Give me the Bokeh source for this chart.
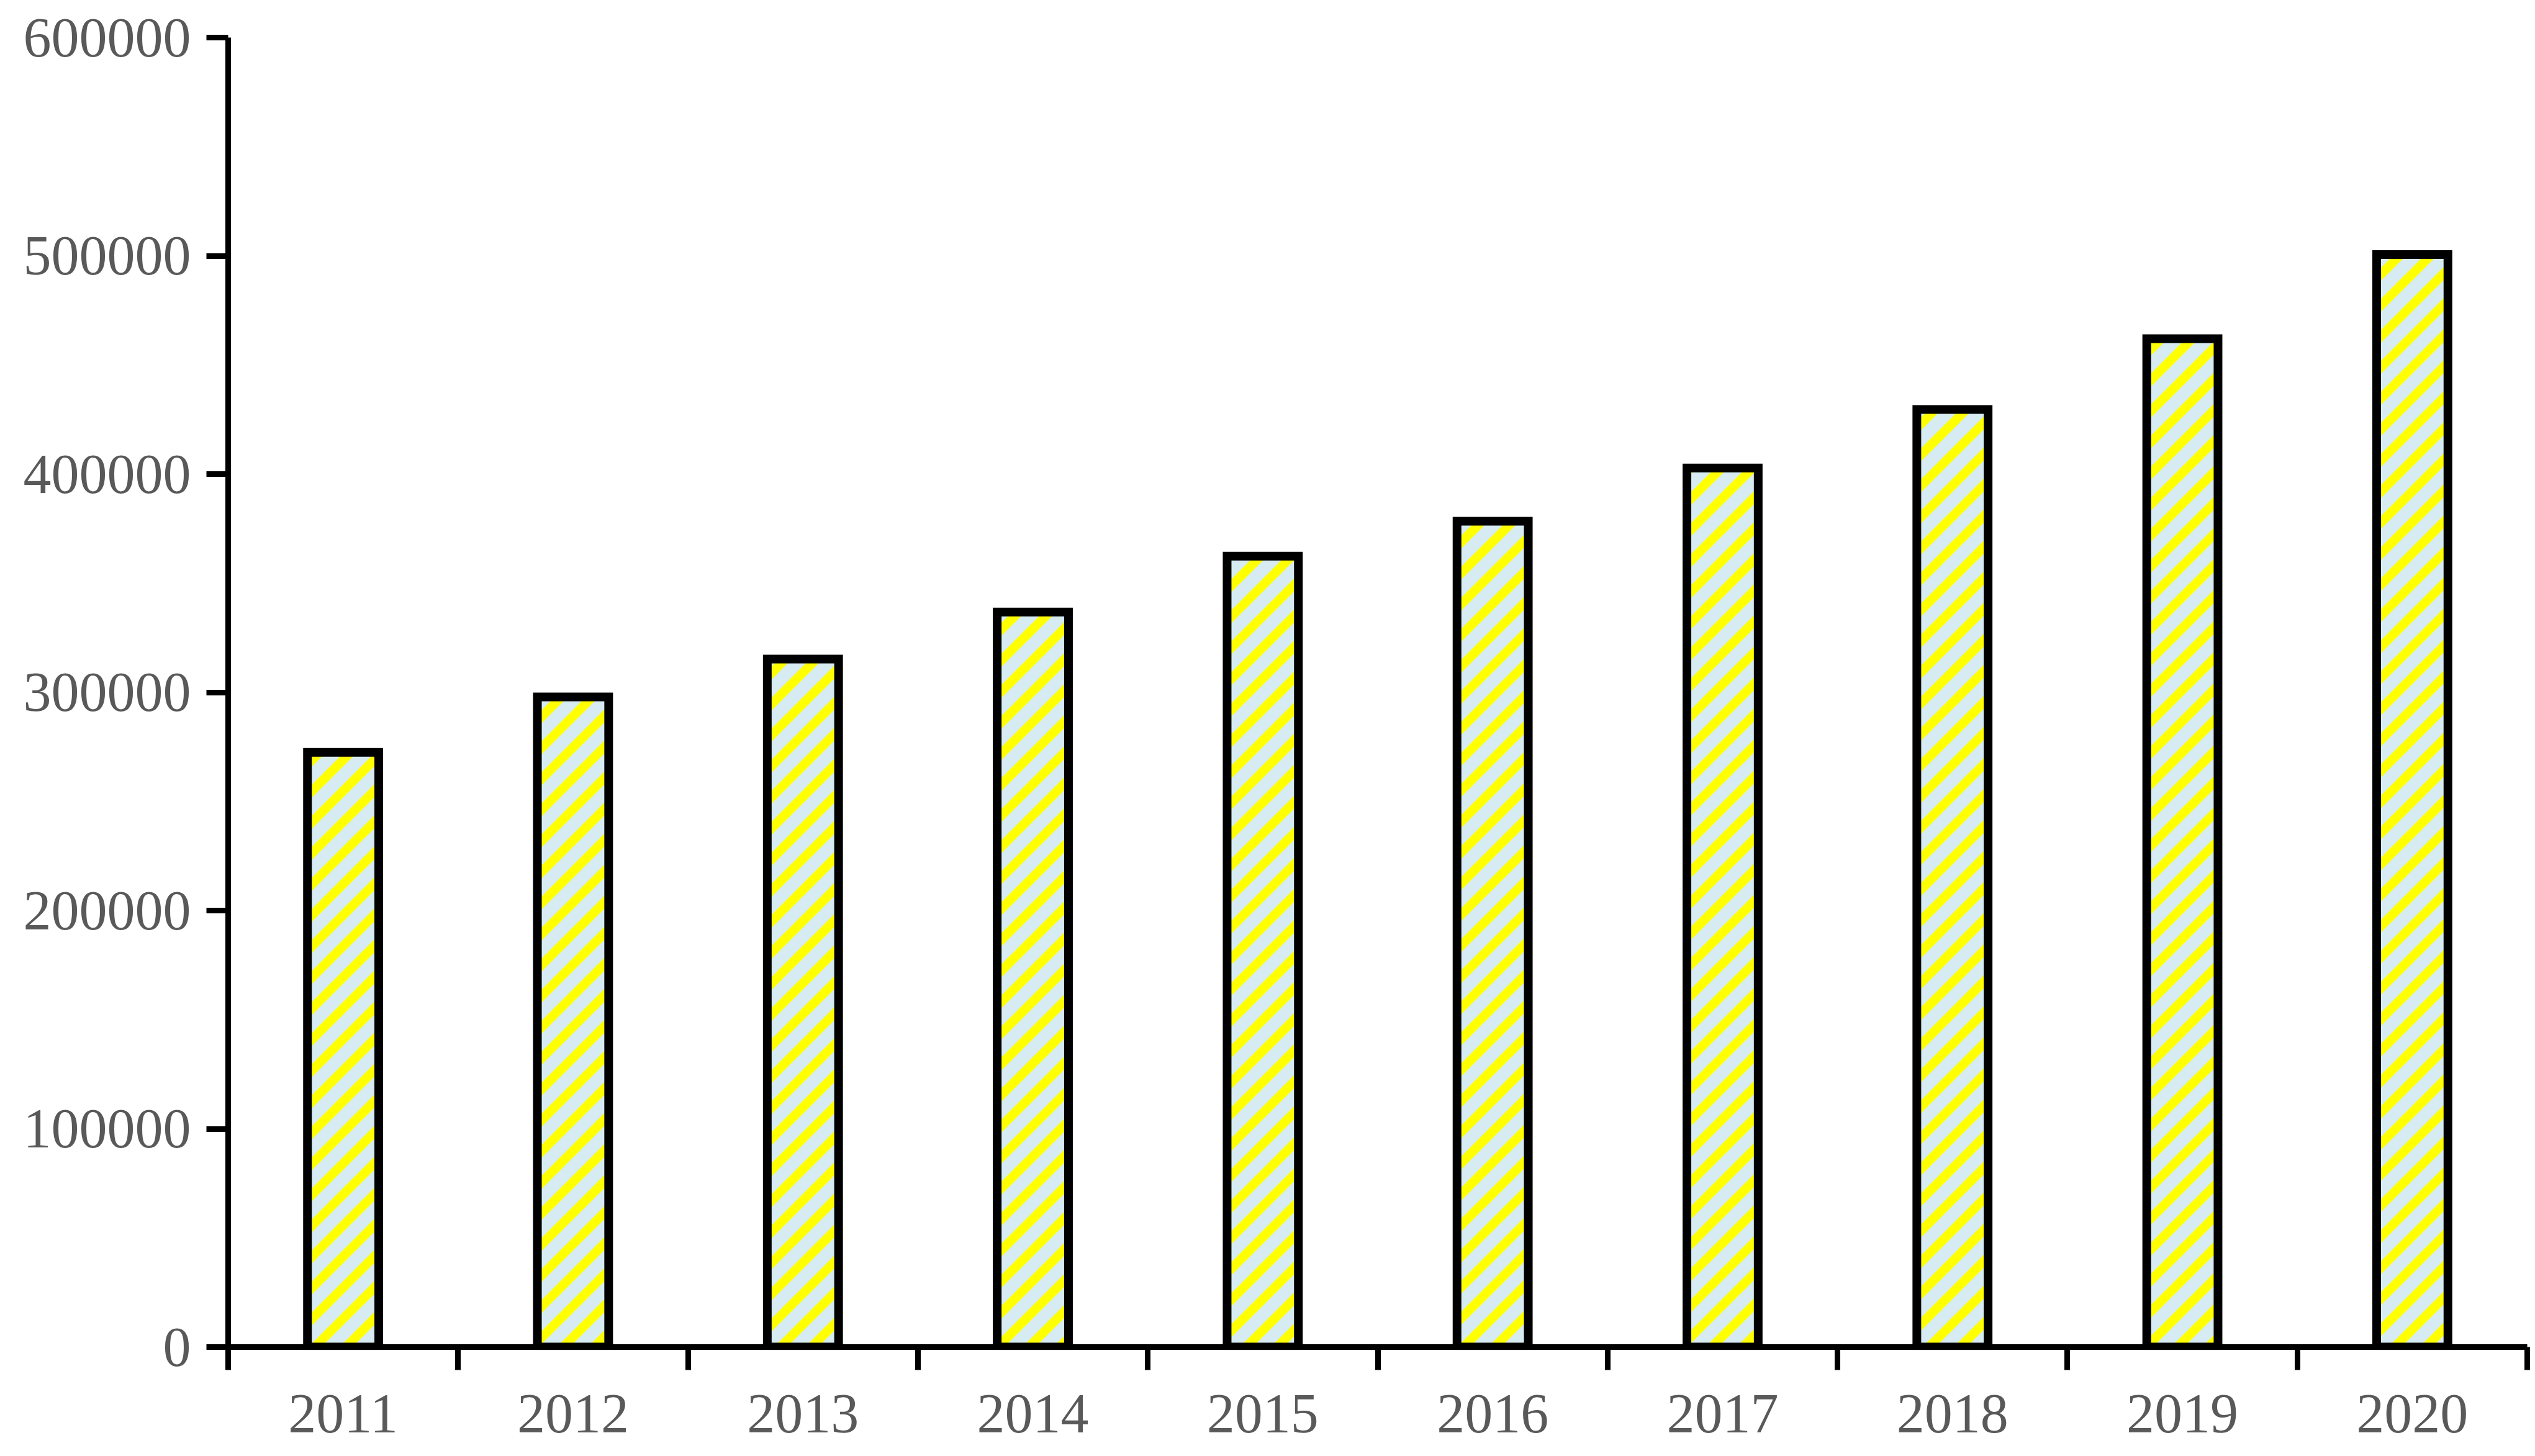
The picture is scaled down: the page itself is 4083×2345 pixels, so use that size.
import math
from bokeh.plotting import figure
from bokeh.models import FixedTicker, BasicTickFormatter
from bokeh.embed import file_html
from bokeh.resources import INLINE

years = ["2011", "2012", "2013", "2014", "2015", "2016", "2017", "2018", "2019", "2020"]
values = [272500, 297900, 315200, 336800, 362400, 378400, 402800, 429600, 462000, 500600]
y_ticks = [0, 100000, 200000, 300000, 400000, 500000, 600000]

Y_MAX = 600000
BAR_W = 0.31
W, H = 4075, 2337
B_LEFT, B_TOP, B_RIGHT, B_BOTTOM = 367, 60, 5, 168

xs = [i + 0.5 for i in range(len(years))]

p = figure(width=W, height=H, x_range=(0, len(years)), y_range=(0, Y_MAX),
           output_backend="svg", toolbar_location=None,
           min_border_left=B_LEFT, min_border_top=B_TOP,
           min_border_right=B_RIGHT, min_border_bottom=B_BOTTOM)
p.outline_line_color = None
p.xgrid.visible = False
p.ygrid.visible = False
p.background_fill_color = "white"
p.border_fill_color = "white"

# ---- diagonal stripe fill (45 deg "wide upward diagonal"), clipped to each bar ----
px_x = (W - B_LEFT - B_RIGHT) / len(years)   # pixels per x unit
px_y = (H - B_TOP - B_BOTTOM) / Y_MAX         # pixels per y unit
PERIOD = 50.0      # vertical repeat of stripes (px)
BAND = 21.0        # vertical thickness of yellow band (px)


def clip(poly, a, b, c):
    out = []
    n = len(poly)
    for i in range(n):
        P, Q = poly[i], poly[(i + 1) % n]
        fp = a * P[0] + b * P[1] + c
        fq = a * Q[0] + b * Q[1] + c
        if fp >= 0:
            out.append(P)
        if (fp >= 0) != (fq >= 0):
            t = fp / (fp - fq)
            out.append((P[0] + t * (Q[0] - P[0]), P[1] + t * (Q[1] - P[1])))
    return out


stripe_xs, stripe_ys = [], []
for x, v in zip(xs, values):
    x0, x1 = (x - BAR_W / 2) * px_x, (x + BAR_W / 2) * px_x
    h = v * px_y
    rect = [(x0, 0.0), (x1, 0.0), (x1, h), (x0, h)]
    k0 = math.floor((0 - x1 - BAND) / PERIOD)
    k1 = math.ceil((h - x0) / PERIOD)
    for k in range(k0, k1 + 1):
        u0 = k * PERIOD
        u1 = u0 + BAND
        poly = clip(rect, -1.0, 1.0, -u0)      # y - x >= u0
        if len(poly) < 3:
            continue
        poly = clip(poly, 1.0, -1.0, u1)       # y - x <= u1
        if len(poly) < 3:
            continue
        stripe_xs.append([pt[0] / px_x for pt in poly])
        stripe_ys.append([pt[1] / px_y for pt in poly])

# bar background
p.vbar(x=xs, top=values, bottom=0, width=BAR_W, fill_color="#d6ecf2", line_color=None)
# yellow stripes
p.patches(xs=stripe_xs, ys=stripe_ys, fill_color="#ffff00", line_color=None)
# bar outline on top
p.vbar(x=xs, top=values, bottom=0, width=BAR_W, fill_color=None,
       line_color="black", line_width=14, line_join="miter")

font = "Liberation Serif"
# x axis
xa = p.xaxis[0]
xa.ticker = FixedTicker(ticks=xs, minor_ticks=list(range(len(years) + 1)))
xa.major_label_overrides = {x: y for x, y in zip(xs, years)}
xa.major_tick_out = 0
xa.major_tick_in = 0
xa.minor_tick_out = 37
xa.minor_tick_in = 0
xa.minor_tick_line_width = 9
xa.minor_tick_line_color = "black"
xa.axis_line_width = 9
xa.axis_line_color = "black"
xa.major_label_text_font = font
xa.major_label_text_font_size = "90px"
xa.major_label_text_color = "#595959"
xa.major_label_standoff = 40

# y axis
ya = p.yaxis[0]
ya.ticker = FixedTicker(ticks=y_ticks)
ya.formatter = BasicTickFormatter(use_scientific=False)
ya.major_tick_out = 35
ya.major_tick_in = 0
ya.minor_tick_out = 0
ya.minor_tick_in = 0
ya.major_tick_line_width = 9
ya.axis_line_width = 9
ya.axis_line_color = "black"
ya.major_tick_line_color = "black"
ya.major_label_text_font = font
ya.major_label_text_font_size = "90px"
ya.major_label_text_color = "#595959"
ya.major_label_standoff = 25

open("out.html", "w").write(file_html(p, INLINE))
